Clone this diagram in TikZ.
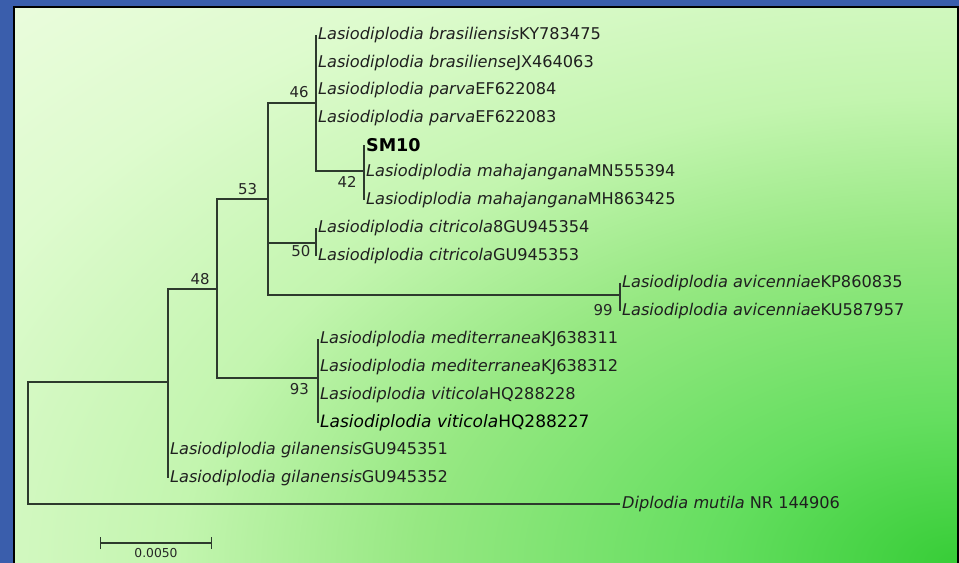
\documentclass[tikz,border=0pt]{standalone}
\usepackage{fontspec}
\setmainfont{DejaVu Sans}
\usepackage{xcolor}
\usetikzlibrary{arrows.meta, positioning}
\definecolor{framecolor}{RGB}{58, 94, 172}
\definecolor{panelpale}{RGB}{242, 253, 230}
\definecolor{panellight}{RGB}{222, 251, 206}
\definecolor{panelsoft}{RGB}{195, 245, 175}
\definecolor{panelmid}{RGB}{150, 232, 130}
\definecolor{panelgrass}{RGB}{100, 222, 95}
\definecolor{panelgreen}{RGB}{55, 205, 55}
\definecolor{branchcolor}{RGB}{45, 58, 45}
\pgfdeclareradialshading{cornerglow}{\pgfpoint{0bp}{0bp}}{color(0bp)=(panelgreen); color(4bp)=(panelgrass); color(9bp)=(panelmid); color(13bp)=(panelsoft); color(18bp)=(panellight); color(25bp)=(panelpale); color(50bp)=(panelpale)}
\newcommand{\taxon}[2]{\textit{#1}#2}

\begin{document}
\begin{tikzpicture}[
    x=0.02cm, y=-0.02cm,
    leaf/.style={anchor=west, inner sep=1pt, text=black!88, font=\fontsize{9.2}{10}\selectfont},
    boot/.style={inner sep=1pt, text=black!85, font=\fontsize{8.5}{10}\selectfont},
    branch/.style={draw=branchcolor, line width=0.7pt}
]
    \useasboundingbox (0,0) rectangle (959,563);

    % frame and panel
    \fill[framecolor] (0,0) rectangle (959,563);
    \begin{scope}
        \clip (14,7) rectangle (958,563);
        \fill[panelpale] (14,7) rectangle (958,563);
        \shade[shading=cornerglow] (958,563) ellipse (1500 and 900);
    \end{scope}
    \draw[black, line width=1pt] (14,563) -- (14,7) -- (958,7) -- (958,563);

    % internal nodes
    \coordinate (root) at (28,443);
    \coordinate (nG) at (168,382);
    \coordinate (nA) at (217,289);
    \coordinate (nB) at (268,199);
    \coordinate (nC) at (316,103);
    \coordinate (nMah) at (364,171);
    \coordinate (nCit) at (316,243);
    \coordinate (nAv) at (620,295);
    \coordinate (nM) at (318,378);

    % leaves
    \node[leaf] (brasKY) at (316,35) {\taxon{Lasiodiplodia brasiliensis}{KY783475}};
    \node[leaf] (brasJX) at (316,63) {\taxon{Lasiodiplodia brasiliense}{JX464063}};
    \node[leaf] (parva84) at (316,90) {\taxon{Lasiodiplodia parva}{EF622084}};
    \node[leaf] (parva83) at (316,118) {\taxon{Lasiodiplodia parva}{EF622083}};
    \node[leaf, font=\fontsize{10}{12}\selectfont\bfseries, text=black] (sm10) at (364,145) {SM10};
    \node[leaf] (mahaMN) at (364,172) {\taxon{Lasiodiplodia mahajangana}{MN555394}};
    \node[leaf] (mahaMH) at (364,200) {\taxon{Lasiodiplodia mahajangana}{MH863425}};
    \node[leaf] (citr54) at (316,228) {\taxon{Lasiodiplodia citricola}{8GU945354}};
    \node[leaf] (citr53) at (316,256) {\taxon{Lasiodiplodia citricola}{GU945353}};
    \node[leaf] (avicKP) at (620,283) {\taxon{Lasiodiplodia avicenniae}{KP860835}};
    \node[leaf] (avicKU) at (620,311) {\taxon{Lasiodiplodia avicenniae}{KU587957}};
    \node[leaf] (medi11) at (318,339) {\taxon{Lasiodiplodia mediterranea}{KJ638311}};
    \node[leaf] (medi12) at (318,367) {\taxon{Lasiodiplodia mediterranea}{KJ638312}};
    \node[leaf] (viti28) at (318,395) {\taxon{Lasiodiplodia viticola}{HQ288228}};
    \node[leaf, font=\fontsize{9.7}{11}\selectfont, text=black] (viti27) at (318,423) {\taxon{Lasiodiplodia viticola}{HQ288227}};
    \node[leaf] (gila51) at (168,450) {\taxon{Lasiodiplodia gilanensis}{GU945351}};
    \node[leaf] (gila52) at (168,478) {\taxon{Lasiodiplodia gilanensis}{GU945352}};
    \node[leaf] (diplo) at (620,504) {\textit{Diplodia mutila} NR 144906};

    % branches
    \foreach \p/\c in {root/nG, root/diplo.west,
        nG/nA, nG/gila51.west, nG/gila52.west,
        nA/nB, nA/nM,
        nB/nC, nB/nCit, nB/nAv,
        nC/brasKY.west, nC/brasJX.west, nC/parva84.west, nC/parva83.west, nC/nMah,
        nMah/sm10.west, nMah/mahaMN.west, nMah/mahaMH.west,
        nCit/citr54.west, nCit/citr53.west,
        nAv/avicKP.west, nAv/avicKU.west,
        nM/medi11.west, nM/medi12.west, nM/viti28.west, nM/viti27.west}
        \draw[branch] (\p) |- (\c);

    % bootstrap values
    \node[boot, above left=2pt and 3pt of nC] (bs46) {46};
    \node[boot, below left=2pt and 3pt of nMah] (bs42) {42};
    \node[boot, above left=1pt and 5pt of nB] (bs53) {53};
    \node[boot, above left=1pt and 3pt of nA] (bs48) {48};
    \node[boot, below left=0pt and 2pt of nCit] (bs50) {50};
    \node[boot, below left=2pt and 4pt of nM] (bs93) {93};
    \node[boot, below left=4pt and 3pt of nAv] (bs99) {99};

    % scale bar
    \coordinate (sbL) at (100,543);
    \coordinate (sbR) at (212,543);
    \draw[branch, {Bar[width=0.24cm]}-{Bar[width=0.24cm]}] (sbL) -- (sbR) coordinate[midway] (sbMid);
    \node[boot, font=\fontsize{7}{8}\selectfont, below=2pt of sbMid] (sbText) {0.0050};
\end{tikzpicture}
\end{document}
